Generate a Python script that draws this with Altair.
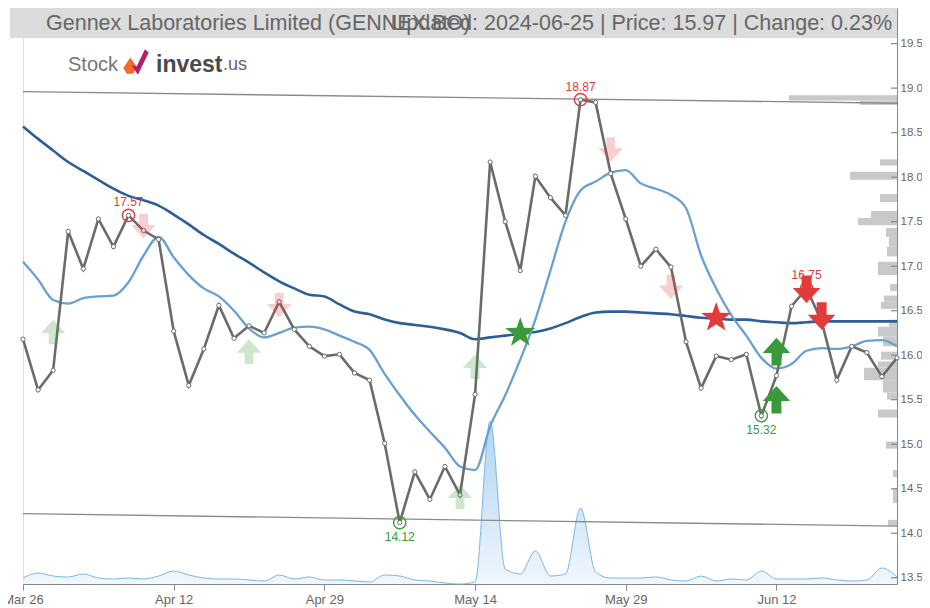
import altair as alt
import pandas as pd

# ---------------- data ----------------
tick_labels = ["Mar 26", "Apr 12", "Apr 29", "May 14", "May 29", "Jun 12"]
tick_index = [0, 10, 20, 30, 40, 50]
y_ticks = [13.5, 14.0, 14.5, 15.0, 15.5, 16.0, 16.5, 17.0, 17.5, 18.0, 18.5, 19.0, 19.5]

price = [16.18, 15.61, 15.83, 17.39, 16.97, 17.53, 17.22, 17.57, 17.40, 17.30,
         16.27, 15.66, 16.07, 16.56, 16.19, 16.33, 16.25, 16.60, 16.29, 16.10,
         15.99, 16.01, 15.80, 15.72, 15.01, 14.12, 14.69, 14.38, 14.75, 14.43,
         15.56, 18.17, 17.50, 16.95, 18.01, 17.77, 17.57, 18.87, 18.84, 18.04,
         17.53, 17.00, 17.19, 16.99, 16.15, 15.63, 15.99, 15.95, 16.01, 15.32,
         15.77, 16.55, 16.75, 16.38, 15.72, 16.10, 16.03, 15.76, 15.97]

ma_short = [17.05, 16.85, 16.62, 16.58, 16.64, 16.66, 16.67, 16.82, 17.12, 17.33,
            17.10, 16.90, 16.75, 16.66, 16.50, 16.30, 16.20, 16.25, 16.31, 16.32,
            16.29, 16.22, 16.15, 16.06, 15.79, 15.55, 15.33, 15.14, 14.96, 14.75,
            14.71, 15.20, 15.55, 15.95, 16.40, 16.95, 17.50, 17.85, 17.95, 18.05,
            18.08, 17.93, 17.87, 17.80, 17.65, 17.12, 16.75, 16.45, 16.22, 15.97,
            15.85, 15.90, 16.05, 16.08, 16.07, 16.10, 16.16, 16.17, 16.10]

ma_long = [18.57, 18.43, 18.30, 18.17, 18.07, 17.97, 17.87, 17.79, 17.74, 17.68,
           17.58, 17.47, 17.35, 17.25, 17.14, 17.04, 16.93, 16.83, 16.75, 16.68,
           16.66, 16.57, 16.49, 16.46, 16.40, 16.36, 16.34, 16.32, 16.29, 16.25,
           16.18, 16.20, 16.22, 16.24, 16.26, 16.30, 16.36, 16.43, 16.48, 16.49,
           16.49, 16.48, 16.47, 16.46, 16.44, 16.42, 16.41, 16.40, 16.40, 16.38,
           16.37, 16.36, 16.37, 16.38, 16.38, 16.38, 16.38, 16.38, 16.38]

volume = [6, 11, 8, 7, 10, 6, 5, 6, 5, 8,
          13, 9, 6, 5, 5, 4, 3, 9, 5, 7,
          4, 4, 3, 2, 9, 8, 4, 3, 1, 0,
          2, 163, 15, 10, 33, 8, 10, 76, 12, 6,
          6, 6, 7, 4, 3, 8, 3, 5, 4, 13,
          5, 5, 5, 6, 4, 3, 4, 16, 7]

trend_x = [0, 58]
trend_upper = [18.96, 18.83]
trend_lower = [14.22, 14.08]

# volume profile (price band low/high, relative volume)
vp_lo = [18.86, 18.81, 18.13, 17.97, 17.72, 17.54, 17.46, 17.33, 17.22, 17.11,
         16.90, 16.72, 16.60, 16.52, 16.32, 16.21, 16.10, 15.95, 15.86, 15.72,
         15.58, 15.50, 15.30, 14.95, 14.63, 14.34, 14.08]
vp_hi = [18.92, 18.86, 18.20, 18.06, 17.81, 17.62, 17.54, 17.43, 17.33, 17.22,
         17.05, 16.80, 16.67, 16.60, 16.40, 16.32, 16.21, 16.04, 15.93, 15.86,
         15.72, 15.58, 15.39, 15.03, 14.71, 14.50, 14.15]
vp_vol = [108, 37, 17, 47, 17, 26, 39, 11, 8, 10,
          19, 7, 13, 16, 8, 19, 14, 16, 19, 33,
          14, 10, 19, 11, 4, 4, 9]

ext_idx = [7, 37, 25, 49, 52]
ext_price = [17.57, 18.87, 14.12, 15.32, 16.75]
ext_kind = ["high", "high", "low", "low", "high"]

up_light_idx = [2, 15, 29, 30]
up_light_price = [16.26, 16.04, 14.41, 15.87]
down_light_idx = [8, 17, 39, 43]
down_light_price = [17.45, 16.56, 18.31, 16.77]
up_idx = [50, 50]
up_price = [16.04, 15.50]
down_idx = [52, 53]
down_price = [16.74, 16.44]
star_idx = [33, 46]
star_price = [16.25, 16.42]

title_left = "Gennex Laboratories Limited (GENNEX.BO)"
title_right = "Updated: 2024-06-25 | Price: 15.97 | Change: 0.23%"

# ---------------- styling ----------------
W, H = 874, 576
FONT = "Liberation Sans"
GREEN = "#3a9a3a"
RED = "#e23b3b"
GRAY_TXT = "#666666"

xs = alt.Scale(domain=[0, 58], nice=False, zero=False)
ys = alt.Scale(domain=[13.43, 19.90], nice=False, zero=False)

UP = "M0,-1 L1,0.1 L0.36,0.1 L0.36,1 L-0.36,1 L-0.36,0.1 L-1,0.1 Z"
DOWN = "M0,1 L1,-0.1 L0.36,-0.1 L0.36,-1 L-0.36,-1 L-0.36,-0.1 L-1,-0.1 Z"
STAR = ("M0,-1 L0.235,-0.324 L0.951,-0.309 L0.380,0.124 L0.588,0.809 L0,0.4 "
        "L-0.588,0.809 L-0.380,0.124 L-0.951,-0.309 L-0.235,-0.324 Z")

n = len(price)
df = pd.DataFrame({"i": list(range(n)), "price": price, "ma_s": ma_short,
                   "ma_l": ma_long, "vol": volume})

X = alt.X("i:Q", scale=xs, axis=None)

# volume area
vol_layer = alt.Chart(df).mark_area(
    interpolate="monotone",
    line={"color": "#7db6e6", "strokeWidth": 1},
    color=alt.Gradient(gradient="linear",
                       stops=[alt.GradientStop(color="#eaf3fc", offset=0),
                              alt.GradientStop(color="#8dc0ea", offset=1)],
                       x1=1, x2=1, y1=1, y2=0),
).encode(x=X, y=alt.Y("vol:Q", scale=alt.Scale(domain=[0, H], nice=False), axis=None))

# volume profile
vp = pd.DataFrame({"lo": vp_lo, "hi": vp_hi, "v": vp_vol})
vp_layer = alt.Chart(vp).mark_rect(color="#c9c9c9").encode(
    x=alt.X("v:Q", scale=alt.Scale(domain=[0, W], reverse=True, nice=False), axis=None),
    x2=alt.datum(0),
    y=alt.Y("lo:Q", scale=ys, axis=None),
    y2="hi:Q",
)

# trend lines
tr = pd.DataFrame({"x1": [trend_x[0]] * 2, "x2": [trend_x[1]] * 2,
                   "y1": [trend_upper[0], trend_lower[0]],
                   "y2": [trend_upper[1], trend_lower[1]]})
trend_layer = alt.Chart(tr).mark_rule(color="#8a8a8a", strokeWidth=1.3).encode(
    x=alt.X("x1:Q", scale=xs, axis=None), x2="x2:Q",
    y=alt.Y("y1:Q", scale=ys, axis=None), y2="y2:Q",
)

ma_l_layer = alt.Chart(df).mark_line(color="#2d5f96", strokeWidth=2.6, interpolate="monotone").encode(
    x=X, y=alt.Y("ma_l:Q", scale=ys, axis=None))
ma_s_layer = alt.Chart(df).mark_line(color="#6a9fd2", strokeWidth=2.3, interpolate="monotone").encode(
    x=X, y=alt.Y("ma_s:Q", scale=ys, axis=None))

label_expr = "[" + ",".join("'" + t + "'" for t in tick_labels) + "][datum.value/10]"
price_layer = alt.Chart(df).mark_line(
    color="#6b6b6b", strokeWidth=2.6,
    point=alt.OverlayMarkDef(filled=True, fill="white", stroke="#6b6b6b", strokeWidth=1, size=18),
).encode(
    x=alt.X("i:Q", scale=xs, axis=alt.Axis(
        orient="bottom", values=tick_index, labelExpr=label_expr, grid=False,
        labelFlush=False, labelOverlap=False,
        tickSize=6, tickColor="#888888", domainColor="#888888", labelColor=GRAY_TXT,
        labelFont=FONT, labelFontSize=13, labelPadding=3, title=None)),
    y=alt.Y("price:Q", scale=ys, axis=alt.Axis(
        orient="right", values=y_ticks, format=".1f", grid=False, tickSize=0,
        labelFlush=False, labelOverlap=False,
        domainColor="#888888", labelColor=GRAY_TXT, labelFont=FONT, labelFontSize=11.5,
        labelPadding=3, title=None)),
)

yt = pd.DataFrame({"v": y_ticks})
ytick_layer = alt.Chart(yt).mark_rule(color="#888888", strokeWidth=1.2).encode(
    y=alt.Y("v:Q", scale=ys, axis=None), x=alt.value(W - 6), x2=alt.value(W))

# signals
def sig(idx, pr, shape, color, opacity, size):
    d = pd.DataFrame({"i": idx, "p": pr})
    return alt.Chart(d).mark_point(shape=shape, filled=True, color=color,
                                   opacity=opacity, size=size, strokeWidth=0).encode(
        x=alt.X("i:Q", scale=xs, axis=None), y=alt.Y("p:Q", scale=ys, axis=None))

up_l = sig(up_light_idx, up_light_price, UP, GREEN, 0.25, 600)
dn_l = sig(down_light_idx, down_light_price, DOWN, RED, 0.25, 600)
up_s = sig(up_idx, up_price, UP, GREEN, 1, 760)
dn_s = sig(down_idx, down_price, DOWN, RED, 1, 760)
star_buy = sig([star_idx[0]], [star_price[0]], STAR, GREEN, 1, 1000)
star_sell = sig([star_idx[1]], [star_price[1]], STAR, RED, 1, 1000)

def ext(kind, color, dy):
    sel = [k == kind for k in ext_kind]
    d = pd.DataFrame({"i": [v for v, s in zip(ext_idx, sel) if s],
                      "p": [v for v, s in zip(ext_price, sel) if s]})
    d["t"] = [f"{v:.2f}" for v in d["p"]]
    base = alt.Chart(d).encode(x=alt.X("i:Q", scale=xs, axis=None),
                               y=alt.Y("p:Q", scale=ys, axis=None))
    c = base.mark_point(shape="circle", filled=False, size=150, strokeWidth=1.4,
                        opacity=1, color=color)
    t = base.mark_text(dy=dy, fontSize=12, font=FONT, color=color).encode(text="t:N")
    return c, t

hi_c, hi_t = ext("high", RED, -13)
lo_c, lo_t = ext("low", GREEN, 14)

# title bar & logo
one = alt.Data(values=[{"a": 1}])
title_bg = alt.Chart(one).mark_rect(color="#dcdcdc").encode(
    x=alt.value(-13), x2=alt.value(W), y=alt.value(-1), y2=alt.value(30))
def txt(s, x, y, size, color, align="left", weight="normal", baseline="alphabetic"):
    return alt.Chart(one).mark_text(align=align, baseline=baseline, fontSize=size, font=FONT,
                                    color=color, fontWeight=weight).encode(
        x=alt.value(x), y=alt.value(y), text=alt.value(s))
title_l = txt(title_left, 23, 22, 21.5, GRAY_TXT)
title_r = txt(title_right, 869, 22, 21.5, GRAY_TXT, align="right")
logo_stock = txt("Stock", 45, 57, 20, "#777777", baseline="middle")
logo_a = alt.Chart(one).mark_point(
    shape="M-1,0.5 L-0.45,-0.35 L0.05,0.35 L-0.2,0.9 L-0.7,0.95 Z",
    filled=True, size=650, opacity=1, strokeWidth=0, color="#f26b2a").encode(
    x=alt.value(113), y=alt.value(54))
logo_b = alt.Chart(one).mark_point(
    shape="M0.05,0.35 L0.7,-1 L1,-0.75 L0.15,1 L-0.35,0.25 Z",
    filled=True, size=650, opacity=1, strokeWidth=0, color="#b0206a").encode(
    x=alt.value(113), y=alt.value(54))
logo_invest = txt("invest", 133, 57, 23, "#4a4a4a", weight="bold", baseline="middle")
logo_us = txt(".us", 200, 57, 18, "#666666", baseline="middle")

chart = alt.layer(
    vol_layer, vp_layer, trend_layer, ma_l_layer, ma_s_layer, price_layer, ytick_layer,
    up_l, dn_l, star_buy, star_sell, up_s, dn_s, hi_c, hi_t, lo_c, lo_t,
    title_bg, title_l, title_r, logo_stock, logo_a, logo_b, logo_invest, logo_us,
).resolve_scale(x="independent", y="independent").properties(
    width=W, height=H,
    autosize=alt.AutoSizeParams(type="none"),
    padding={"left": 15, "top": 0, "right": 25, "bottom": 24},
).configure_view(stroke=None).configure(background="white")

chart.save("out.html", embed_options={"renderer": "svg", "actions": False})
